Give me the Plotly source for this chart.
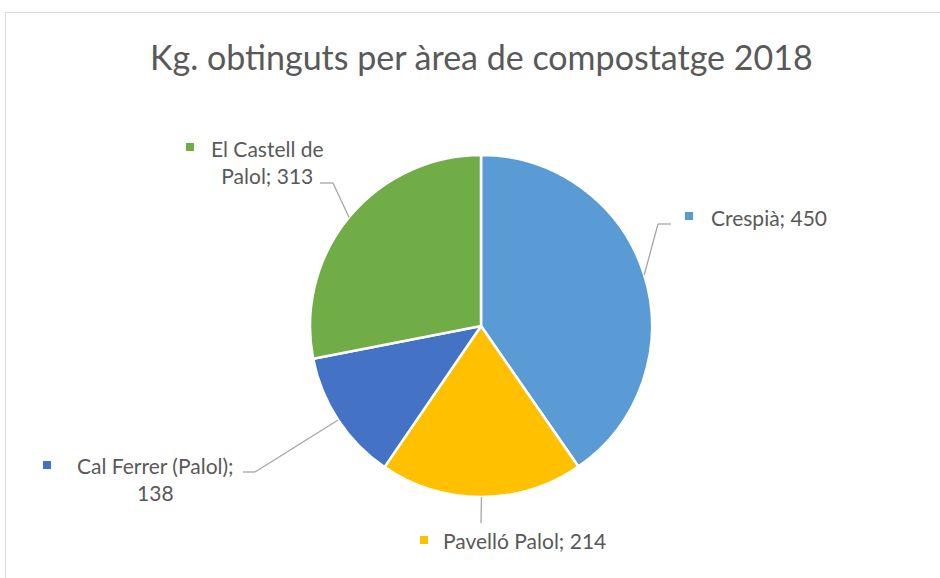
import math
import plotly.graph_objects as go

# ---- data ----
categories = ["Crespià", "Pavelló Palol", "Cal Ferrer (Palol)", "El Castell de Palol"]
values = [450, 214, 138, 313]
colors = ["#5B9BD5", "#FFC000", "#4472C4", "#70AD47"]
label_texts = ["Crespià; 450", "Pavelló Palol; 214", "Cal Ferrer (Palol);<br>138", "El Castell de<br>Palol; 313"]
title_text = "Kg. obtinguts per àrea de compostatge 2018"

W, H = 940, 578
def px(x):
    return x / W
def py(y):
    return 1 - y / H

# pie geometry (screen pixels)
cx, cy, r = 481, 326, 171

fig = go.Figure(go.Pie(
    labels=categories, values=values, sort=False, direction="clockwise", rotation=0,
    marker=dict(colors=colors, line=dict(color="white", width=2.5)),
    textinfo="none", hoverinfo="label+value", showlegend=False,
    domain=dict(x=[px(cx - r), px(cx + r)], y=[py(cy + r), py(cy - r)]),
))

# label layout (pixels): text center, square position, elbow point, end point
label_layout = [
    dict(tx=769, ty=217, sq=(685, 212), elbow=(658, 224), end=(671, 224)),
    dict(tx=524, ty=540, sq=(420, 536), elbow=None, end=(481, 523)),
    dict(tx=155, ty=479, sq=(43, 461), elbow=(255, 472), end=(243, 472)),
    dict(tx=267, ty=162, sq=(186, 143), elbow=(333, 183), end=(320, 183)),
]

total = sum(values)
shapes = []
annotations = []
cum = 0
for v, col, txt, lay in zip(values, colors, label_texts, label_layout):
    mid = (cum + v / 2) / total * 2 * math.pi
    cum += v
    sx = cx + r * math.sin(mid)
    sy = cy - r * math.cos(mid)
    pts = [(sx, sy)]
    if lay["elbow"]:
        pts.append(lay["elbow"])
    pts.append(lay["end"])
    for (x0, y0), (x1, y1) in zip(pts[:-1], pts[1:]):
        shapes.append(dict(type="line", xref="paper", yref="paper",
                           x0=px(x0), y0=py(y0), x1=px(x1), y1=py(y1),
                           line=dict(color="#A6A6A6", width=1.3)))
    qx, qy = lay["sq"]
    shapes.append(dict(type="rect", xref="paper", yref="paper",
                       x0=px(qx), x1=px(qx + 8), y0=py(qy + 8), y1=py(qy),
                       fillcolor=col, line=dict(width=0)))
    annotations.append(dict(text=txt, xref="paper", yref="paper",
                            x=px(lay["tx"]), y=py(lay["ty"]), xanchor="center", yanchor="middle",
                            showarrow=False, align="center",
                            font=dict(family="Lato", size=21, color="#595959")))

# chart area border
shapes.append(dict(type="rect", xref="paper", yref="paper",
                   x0=px(5.5), x1=px(W + 20), y0=py(H + 20), y1=py(12.5),
                   line=dict(color="#D9D9D9", width=1), fillcolor="rgba(0,0,0,0)", layer="below"))

annotations.append(dict(text=title_text, xref="paper", yref="paper",
                        x=px(481), y=py(56), xanchor="center", yanchor="middle", showarrow=False,
                        font=dict(family="Lato", size=34, color="#595959")))

fig.update_layout(
    width=W, height=H, margin=dict(l=0, r=0, t=0, b=0),
    paper_bgcolor="white", plot_bgcolor="white",
    shapes=shapes, annotations=annotations,
)

fig.write_html("out.html", config={"displayModeBar": False},
               post_script="document.body.style.margin='0';document.body.style.overflow='hidden';")
